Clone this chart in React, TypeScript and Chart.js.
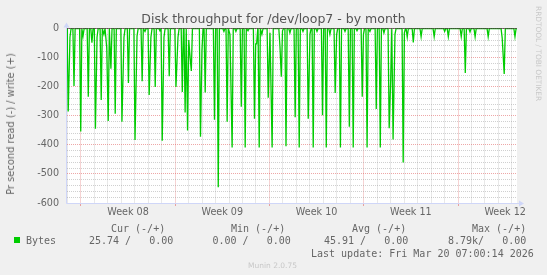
import React, { useEffect, useRef } from 'react';
import { Chart, registerables } from 'chart.js';

Chart.register(...registerables);

// Time axis: days since Monday of week 08 (Feb 16, 2026 00:00)
const X_MIN = -1.03;
const X_MAX = 32.38;
const RRD_STEP_DAYS = 2 / 24;

const weekStarts = [0, 7, 14, 21, 28];
const weekLabelDays = [3.5, 10.5, 17.5, 24.5, 31.5];
const weekLabels = ['Week 08', 'Week 09', 'Week 10', 'Week 11', 'Week 12'];

const yMin = -600;
const yMax = 0;

// Read bytes per second (drawn negative), non-zero samples only
const spikeDays = [
  -1.0, -0.94, -0.81, -0.51, -0.01, 0.16, 0.55, 0.82, 1.08, 1.2,
  1.51, 1.71, 1.92, 2.03, 2.23, 2.55, 3.05, 3.2, 3.53, 4.02,
  4.17, 4.55, 4.76, 5.07, 5.2, 5.52, 5.87, 6.04, 6.17, 6.56,
  7.06, 7.21, 7.53, 7.74, 7.92, 8.01, 8.08, 8.2, 8.88, 8.99,
  9.23, 9.92, 10.2, 10.62, 10.86, 11.07, 11.23, 11.51, 11.91, 12.2,
  12.41, 12.89, 12.98, 13.05, 13.24, 13.44, 13.91, 14.04, 14.2, 14.78,
  14.88, 14.97, 15.23, 15.52, 15.91, 16.21, 16.49, 16.88, 17.01, 17.25,
  17.53, 17.94, 18.22, 18.49, 18.88, 18.99, 19.27, 19.61, 19.93, 20.22,
  20.5, 20.89, 20.98, 21.25, 21.46, 21.93, 22.23, 22.5, 22.89, 23.0,
  23.18, 23.32, 23.93, 24.02, 24.23, 24.68, 25.26, 26.23, 27.01, 27.28,
  28.24, 28.54, 28.89, 29.27, 30.24, 31.28, 31.43, 32.23,
];
const spikeValues = [
  -80, -285, -30, -198, -354, -26, -235, -49, -345, -30,
  -246, -20, -66, -318, -138, -293, -321, -30, -187, -383,
  -26, -181, -10, -229, -30, -201, -8, -386, -30, -164,
  -201, -30, -218, -289, -351, -40, -83, -146, -372, -75,
  -220, -314, -546, -10, -321, -20, -409, -10, -269, -409,
  -8, -310, -53, -53, -409, -20, -238, -15, -409, -60,
  -166, -8, -405, -15, -305, -409, -10, -310, -20, -409,
  -10, -298, -409, -20, -222, -20, -409, -10, -338, -409,
  -8, -235, -20, -409, -10, -277, -409, -15, -343, -182,
  -382, -20, -461, -15, -30, -48, -28, -28, -10, -28,
  -28, -153, -12, -29, -28, -32, -156, -28,
];

const GREEN = '#00CC00';
const MINOR = 'rgba(150,150,150,0.45)';
const MAJOR = 'rgba(222,80,80,0.5)';
const AXIS = '#CFD6F8';
const FONT_COLOR = '#666666';

function buildPoints() {
  const pts: { x: number; y: number }[] = [{ x: X_MIN, y: 0 }];
  let prev = -Infinity;
  spikeDays.forEach((d, i) => {
    if (d - prev > 2 * RRD_STEP_DAYS + 0.001) {
      if (isFinite(prev)) pts.push({ x: prev + RRD_STEP_DAYS, y: 0 });
      const z = d - RRD_STEP_DAYS;
      if (z > pts[pts.length - 1].x) pts.push({ x: z, y: 0 });
    }
    pts.push({ x: d, y: spikeValues[i] });
    prev = d;
  });
  pts.push({ x: prev + RRD_STEP_DAYS, y: 0 });
  pts.push({ x: X_MAX, y: 0 });
  return pts;
}

const axesPlugin = {
  id: 'rrdAxes',
  beforeDraw(chart: any) {
    const { ctx, chartArea: a } = chart;
    ctx.save();
    ctx.fillStyle = '#FFFFFF';
    ctx.fillRect(a.left, a.top, a.right - a.left, a.bottom - a.top);
    ctx.restore();
  },
  afterDraw(chart: any) {
    const { ctx, chartArea: a } = chart;
    ctx.save();
    ctx.strokeStyle = AXIS;
    ctx.fillStyle = AXIS;
    ctx.lineWidth = 1;
    const L = Math.round(a.left) - 0.5;
    const B = Math.round(a.bottom) + 0.5;
    ctx.beginPath();
    ctx.moveTo(L, B);
    ctx.lineTo(L, a.top - 2);
    ctx.moveTo(L, B);
    ctx.lineTo(a.right + 4, B);
    ctx.stroke();
    ctx.beginPath();
    ctx.moveTo(L, a.top - 6);
    ctx.lineTo(L - 3, a.top - 1);
    ctx.lineTo(L + 3, a.top - 1);
    ctx.closePath();
    ctx.fill();
    ctx.beginPath();
    ctx.moveTo(a.right + 7, B);
    ctx.lineTo(a.right + 2, B - 3);
    ctx.lineTo(a.right + 2, B + 3);
    ctx.closePath();
    ctx.fill();
    ctx.restore();
  },
};

const txt: React.CSSProperties = {
  position: 'absolute',
  whiteSpace: 'pre',
  fontFamily: '"DejaVu Sans Mono", monospace',
  fontSize: '10px',
  lineHeight: '12px',
  color: FONT_COLOR,
};

export default function App() {
  const ref = useRef<HTMLCanvasElement | null>(null);

  useEffect(() => {
    if (!ref.current) return;
    const majorSet = new Set(weekStarts);
    const labelMap = new Map<number, string>();
    weekLabelDays.forEach((d, i) => labelMap.set(d, weekLabels[i]));

    const chart = new Chart(ref.current, {
      type: 'line',
      data: {
        datasets: [
          {
            label: 'zero',
            data: [
              { x: X_MIN, y: 0 },
              { x: X_MAX, y: 0 },
            ],
            borderColor: '#000000',
            borderWidth: 1,
            pointRadius: 0,
            tension: 0,
            order: 0,
          },
          {
            label: 'Bytes',
            data: buildPoints(),
            borderColor: GREEN,
            backgroundColor: GREEN,
            borderWidth: 1.3,
            pointRadius: 0,
            tension: 0,
            fill: false,
            order: 1,
          },
        ],
      },
      options: {
        animation: false,
        responsive: false,
        maintainAspectRatio: false,
        events: [],
        layout: { padding: { top: 28.5, right: 30, bottom: 52, left: 0 } },
        plugins: {
          legend: { display: false },
          title: { display: false },
          tooltip: { enabled: false },
        },
        scales: {
          x: {
            type: 'linear',
            min: X_MIN,
            max: X_MAX,
            afterBuildTicks: (scale: any) => {
              const ticks: { value: number }[] = [];
              for (let d = Math.ceil(X_MIN); d <= Math.floor(X_MAX); d++) ticks.push({ value: d });
              weekLabelDays.forEach((d) => ticks.push({ value: d }));
              ticks.sort((p, q) => p.value - q.value);
              scale.ticks = ticks;
            },
            afterFit: (scale: any) => {
              scale.height = 20;
            },
            ticks: {
              autoSkip: false,
              maxRotation: 0,
              minRotation: 0,
              padding: 1,
              color: FONT_COLOR,
              font: { family: '"DejaVu Sans"', size: 9.6 },
              callback: (v: any) => labelMap.get(Number(v)) ?? '',
            },
            grid: {
              color: (c: any) => {
                const v = c.tick?.value;
                if (labelMap.has(v)) return 'rgba(0,0,0,0)';
                return majorSet.has(v) ? MAJOR : MINOR;
              },
              tickColor: (c: any) => (majorSet.has(c.tick?.value) ? MAJOR : 'rgba(0,0,0,0)'),
              tickLength: 3,
              lineWidth: 1,
            },
            border: { display: false, dash: [1, 1] },
          },
          y: {
            type: 'linear',
            min: yMin,
            max: yMax,
            afterFit: (scale: any) => {
              scale.width = 67;
            },
            ticks: {
              stepSize: 20,
              autoSkip: false,
              padding: 8,
              color: FONT_COLOR,
              font: { family: '"DejaVu Sans"', size: 9.6 },
              callback: (v: any) => (Number(v) % 100 === 0 ? String(v) : ''),
            },
            grid: {
              color: (c: any) => (c.tick && c.tick.value % 100 === 0 ? MAJOR : MINOR),
              drawTicks: false,
              lineWidth: 1,
            },
            border: { display: false, dash: [1, 1] },
          },
        },
      } as any,
      plugins: [axesPlugin],
    });
    return () => chart.destroy();
  }, []);

  return (
    <div
      style={{
        position: 'fixed',
        left: 0,
        top: 0,
        width: 547,
        height: 275,
        background: '#F0F0F0',
        overflow: 'hidden',
      }}
    >
      <canvas ref={ref} width={547} height={275} style={{ position: 'absolute', left: 0, top: 0, width: 547, height: 275 }} />
      <div
        style={{
          position: 'absolute',
          left: 0,
          width: 547,
          top: 11,
          textAlign: 'center',
          fontFamily: '"DejaVu Sans", sans-serif',
          fontSize: '12.5px',
          lineHeight: '16px',
          color: '#555555',
        }}
      >
        Disk throughput for /dev/loop7 - by month
      </div>
      <div
        style={{
          position: 'absolute',
          left: 11,
          top: 124,
          transform: 'translate(-50%, -50%) rotate(-90deg)',
          whiteSpace: 'nowrap',
          fontFamily: '"DejaVu Sans", sans-serif',
          fontSize: '9.9px',
          lineHeight: '12px',
          color: FONT_COLOR,
        }}
      >
        Pr second read (-) / write (+)
      </div>
      <div
        style={{
          position: 'absolute',
          left: 534,
          top: 6,
          writingMode: 'vertical-rl',
          whiteSpace: 'nowrap',
          fontFamily: '"DejaVu Sans", sans-serif',
          fontSize: '7.4px',
          lineHeight: '9px',
          color: '#C8C8C8',
        }}
      >
        RRDTOOL / TOBI OETIKER
      </div>
      <div style={{ ...txt, left: 111, top: 223 }}>Cur (-/+)</div>
      <div style={{ ...txt, left: 231, top: 223 }}>Min (-/+)</div>
      <div style={{ ...txt, left: 352, top: 223 }}>Avg (-/+)</div>
      <div style={{ ...txt, left: 472, top: 223 }}>Max (-/+)</div>
      <div style={{ position: 'absolute', left: 14, top: 237, width: 6, height: 6, background: GREEN }} />
      <div style={{ ...txt, left: 26, top: 235 }}>Bytes</div>
      <div style={{ ...txt, left: 89, top: 235 }}>25.74 /   0.00</div>
      <div style={{ ...txt, left: 212.5, top: 235 }}>0.00 /   0.00</div>
      <div style={{ ...txt, left: 324, top: 235 }}>45.91 /   0.00</div>
      <div style={{ ...txt, left: 448, top: 235 }}>8.79k/   0.00</div>
      <div style={{ ...txt, left: 311, top: 248 }}>Last update: Fri Mar 20 07:00:14 2026</div>
      <div
        style={{
          position: 'absolute',
          left: 0,
          width: 545,
          top: 261,
          textAlign: 'center',
          fontFamily: '"DejaVu Sans", sans-serif',
          fontSize: '7.5px',
          lineHeight: '10px',
          color: '#C8C8C8',
        }}
      >
        Munin 2.0.75
      </div>
    </div>
  );
}
